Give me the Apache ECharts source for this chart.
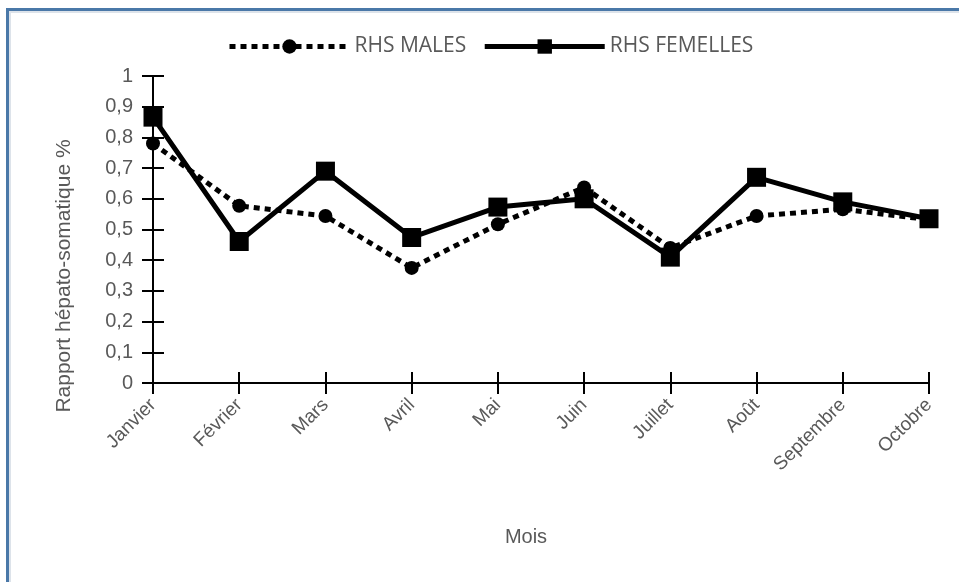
<!DOCTYPE html>
<html>
<head>
<meta charset="utf-8">
<script src="https://cdn.jsdelivr.net/npm/echarts@6/dist/echarts.min.js"></script>
<style>
html,body{margin:0;padding:0;background:#fff;}
#c{width:959px;height:582px;}
</style>
</head>
<body>
<div id="c"></div>
<script>
const months = ['Janvier','Février','Mars','Avril','Mai','Juin','Juillet','Août','Septembre','Octobre'];
const males = [0.78, 0.577, 0.544, 0.375, 0.517, 0.637, 0.44, 0.544, 0.566, 0.532];
const femelles = [0.866, 0.461, 0.69, 0.474, 0.573, 0.60, 0.41, 0.67, 0.59, 0.535];
const yTicks = {min: 0, max: 1, interval: 0.1};

const chart = echarts.init(document.getElementById('c'));
const grey = '#595959';
const ff = '"Liberation Sans", Arial, sans-serif';
const fmt = v => String(Math.round(v*10)/10).replace('.', ',');
chart.setOption({
  animation: false,
  backgroundColor: '#fff',
  graphic: [
    {type:'rect', shape:{x:6,y:8,width:959,height:3}, style:{fill:'#4a78a8'}},
    {type:'rect', shape:{x:6,y:8,width:3,height:600}, style:{fill:'#4a78a8'}},
    {type:'rect', shape:{x:9,y:11,width:959,height:2}, style:{fill:'#dde3ea'}},
    {type:'rect', shape:{x:9,y:11,width:2,height:600}, style:{fill:'#dde3ea'}},
    {type:'text', x:64, y:276, rotation:Math.PI/2, style:{text:'Rapport hépato-somatique %', fill:grey, font:'21px ' + ff, align:'center', verticalAlign:'middle'}},
    {type:'text', x:526, y:537, style:{text:'Mois', fill:grey, font:'20px ' + ff, align:'center', verticalAlign:'middle'}}
  ],
  legend: {
    top: 31, left: 222,
    itemWidth: 120, itemHeight: 18, itemGap: 16,
    lineStyle: {width: 5},
    textStyle: {color: grey, fontSize: 21, fontFamily: '"Open Sans", sans-serif'},
    data: ['RHS MALES', 'RHS FEMELLES']
  },
  grid: {left: 153, right: 30, top: 76, bottom: 199, containLabel: false},
  xAxis: [{
    type: 'category', data: months, boundaryGap: false,
    axisLine: {lineStyle: {color: '#000', width: 2}},
    axisTick: {show: true, length: 11, lineStyle: {color: '#000', width: 2}},
    axisLabel: {rotate: 45, color: grey, fontSize: 19, fontFamily: ff, margin: 19, interval: 0}
  },{
    type: 'category', data: months, boundaryGap: false, position: 'bottom',
    axisLine: {show: false},
    axisTick: {show: true, inside: true, length: 11, lineStyle: {color: '#000', width: 2}},
    axisLabel: {show: false}
  }],
  yAxis: [{
    type: 'value', min: yTicks.min, max: yTicks.max, interval: yTicks.interval,
    axisLine: {show: true, lineStyle: {color: '#000', width: 2}},
    axisTick: {show: true, length: 11, lineStyle: {color: '#000', width: 2}},
    splitLine: {show: false},
    axisLabel: {color: grey, fontSize: 20, fontFamily: ff, margin: 20, formatter: fmt}
  },{
    type: 'value', min: yTicks.min, max: yTicks.max, interval: yTicks.interval, position: 'left',
    axisLine: {show: false},
    axisTick: {show: true, inside: true, length: 11, lineStyle: {color: '#000', width: 2}},
    splitLine: {show: false},
    axisLabel: {show: false}
  }],
  series: [{
    name: 'RHS MALES', type: 'line', data: males,
    symbol: 'circle', symbolSize: 14,
    lineStyle: {color: '#000', width: 5, type: [6, 5]},
    itemStyle: {color: '#000'}
  },{
    name: 'RHS FEMELLES', type: 'line', data: femelles,
    symbol: 'rect', symbolSize: 19,
    lineStyle: {color: '#000', width: 5},
    itemStyle: {color: '#000'}
  }]
});
</script>
</body>
</html>
